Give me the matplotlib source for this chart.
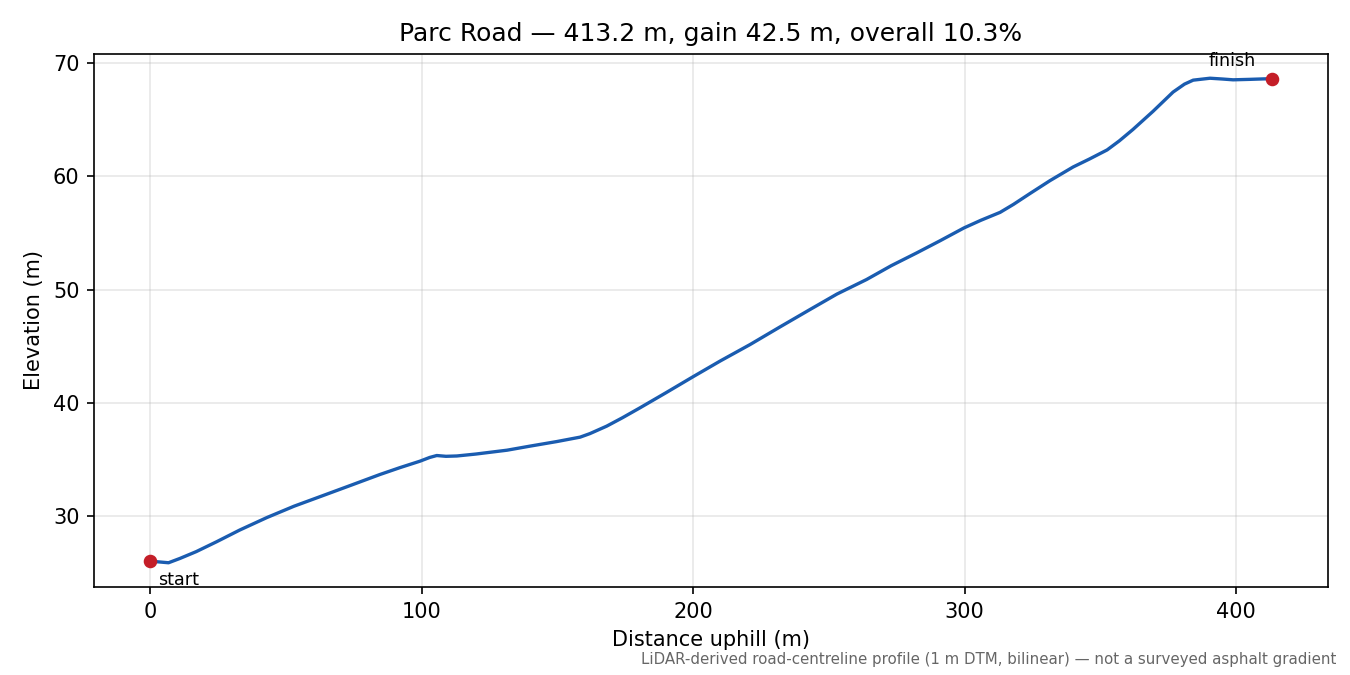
"""Elevation profile of Parc Road (LiDAR-derived road-centreline)."""
import matplotlib; matplotlib.use("Agg")
import matplotlib.pyplot as plt
import numpy as np

ROAD = "Parc Road"
# distance uphill (m) and elevation (m), read along the centreline
dist = [0, 3, 6.8, 11, 17, 24.5, 33, 43, 53, 63.8, 74, 84.7, 92, 99.4, 103, 105.6,
        109, 113, 120, 131.5, 140, 149.8, 158.4, 162, 168.2, 174, 180.5, 190, 199.9,
        210, 221, 232, 243.1, 253, 263.9, 273, 282.4, 291, 299.8, 306, 313.1, 318,
        324.1, 331.5, 340, 346, 352.5, 357, 362, 369.4, 376.8, 381, 384.2, 390.4,
        395, 398.9, 405, 410, 413.2]
elev = [26.06, 26.0, 25.92, 26.3, 26.9, 27.77, 28.8, 29.9, 30.9, 31.85, 32.75, 33.7,
        34.3, 34.87, 35.2, 35.37, 35.3, 35.33, 35.5, 35.84, 36.2, 36.6, 36.99, 37.3,
        37.96, 38.7, 39.58, 40.9, 42.3, 43.7, 45.15, 46.7, 48.24, 49.6, 50.88, 52.1,
        53.23, 54.3, 55.43, 56.1, 56.8, 57.5, 58.46, 59.6, 60.8, 61.5, 62.3, 63.1,
        64.1, 65.7, 67.4, 68.1, 68.45, 68.62, 68.55, 68.48, 68.52, 68.56, 68.58]

dist = np.array(dist); elev = np.array(elev)
length = dist[-1]
gain = elev[-1] - elev[0]
grade = 100 * gain / length

fig, ax = plt.subplots(figsize=(9, 4.5), dpi=150)
ax.plot(dist, elev, color="#1a5cb0", lw=1.6)
ax.plot([dist[0], dist[-1]], [elev[0], elev[-1]], "o", color="#c41e28", ms=5.5, zorder=3)
ax.annotate("start", (dist[0], elev[0]), xytext=(4, -9), textcoords="offset points",
            fontsize=8.4, va="center")
ax.annotate("finish", (dist[-1], elev[-1]), xytext=(-19, 8.5), textcoords="offset points",
            fontsize=8.4, ha="center", va="center")
ax.grid(alpha=0.3)
ax.set_xlabel("Distance uphill (m)")
ax.set_ylabel("Elevation (m)")
ax.set_title(f"{ROAD} — {length:.1f} m, gain {gain:.1f} m, overall {grade:.1f}%")
fig.text(0.99, 0.012, "LiDAR-derived road-centreline profile (1 m DTM, bilinear) — not a surveyed asphalt gradient",
         ha="right", va="bottom", fontsize=7.2, color="#666666")
fig.subplots_adjust(left=0.0696, right=0.9837, top=0.92, bottom=0.1304)
fig.savefig("out.png", dpi=150)
